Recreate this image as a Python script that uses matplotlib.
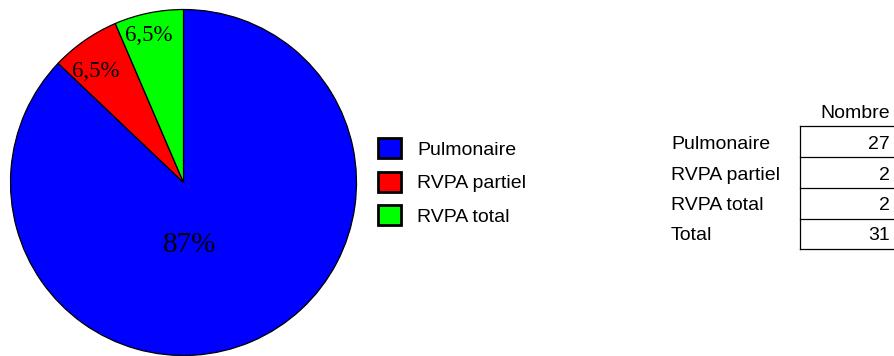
import matplotlib
matplotlib.use("Agg")
import matplotlib.pyplot as plt
from matplotlib.patches import Patch
from matplotlib.lines import Line2D

categories = ["Pulmonaire", "RVPA partiel", "RVPA total"]
counts = [27, 2, 2]
pct_labels = ["87%", "6,5%", "6,5%"]
colors = ["#0000ff", "#ff0000", "#00ff00"]
table_header = "Nombre"
total_label = "Total"

W, H = 895, 356
fig = plt.figure(figsize=(W / 100, H / 100), dpi=100)
fig.patch.set_facecolor("white")

# pie axes: centre at (183.5, 182.5) px, radius ~173 px
cx, cy, r = 183.5, 182.5, 173
ax = fig.add_axes([(cx - r) / W, (H - cy - r) / H, 2 * r / W, 2 * r / H])
wedges, _ = ax.pie(counts, colors=colors, startangle=90, counterclock=False,
                   radius=1.0,
                   wedgeprops=dict(edgecolor="black", linewidth=0.9))
ax.set_xlim(-1, 1)
ax.set_ylim(-1, 1)
ax.set_aspect("equal")
ax.axis("off")

# percentage labels inside the wedges
label_pos = [(0.035, -0.36), (-0.51, 0.64), (-0.20, 0.85)]
label_size = [21, 16.5, 16.5]
for txt, (x, y), s in zip(pct_labels, label_pos, label_size):
    ax.text(x, y, txt, ha="center", va="center", fontsize=s,
            family="Liberation Serif", color="black")

# legend with square swatches
handles = [Patch(facecolor=c, edgecolor="black", linewidth=2.0) for c in colors]
fs = 14
leg = fig.legend(handles, categories, loc="upper left",
                 bbox_to_anchor=(378 / W, 1 - 138 / H),
                 frameon=False,
                 prop=dict(family="Liberation Sans", size=fs),
                 handlelength=1.2, handleheight=1.2,
                 handletextpad=0.8, labelspacing=0.68,
                 borderpad=0.0, borderaxespad=0.0)

# summary table on the right
def fx(px):
    return px / W

def fy(py):
    return 1 - py / H

row_labels = categories + [total_label]
row_values = counts + [sum(counts)]
row_y = [144.5, 175, 205.5, 236]
line_y = [126, 157.3, 188.3, 219.3, 249.3]
x_left_label = 671
x_box = 800
x_right_text = 890

fig.text(fx(x_right_text), fy(114), table_header, ha="right", va="center",
         fontsize=fs, family="Liberation Sans")
for lab, val, y in zip(row_labels, row_values, row_y):
    fig.text(fx(x_left_label), fy(y), lab, ha="left", va="center",
             fontsize=fs, family="Liberation Sans")
    fig.text(fx(x_right_text), fy(y), str(val), ha="right", va="center",
             fontsize=fs, family="Liberation Sans")
for y in line_y:
    fig.add_artist(Line2D([fx(x_box), fx(W + 5)], [fy(y), fy(y)],
                          color="black", linewidth=0.9))
fig.add_artist(Line2D([fx(x_box), fx(x_box)], [fy(line_y[0]), fy(line_y[-1])],
                      color="black", linewidth=0.9))

fig.savefig("out.png", dpi=100, facecolor="white")
